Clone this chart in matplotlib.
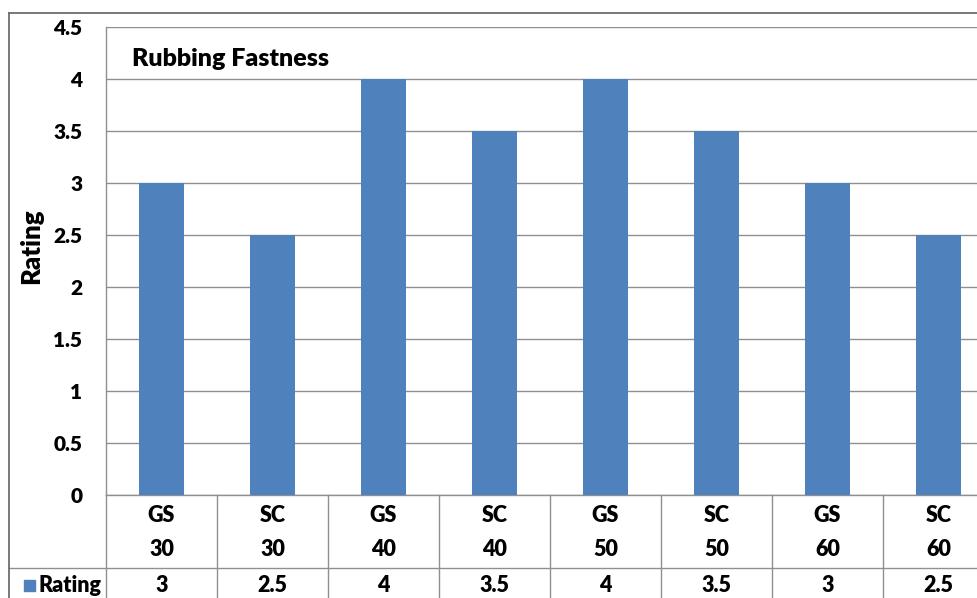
import matplotlib
matplotlib.use("Agg")
import matplotlib.pyplot as plt
from matplotlib.transforms import blended_transform_factory
from matplotlib.lines import Line2D
from matplotlib.patches import Rectangle

# Data
groups = ["GS", "SC", "GS", "SC", "GS", "SC", "GS", "SC"]
levels = ["30", "30", "40", "40", "50", "50", "60", "60"]
ratings = [3, 2.5, 4, 3.5, 4, 3.5, 3, 2.5]
yticks = [0, 0.5, 1, 1.5, 2, 2.5, 3, 3.5, 4, 4.5]
series_name = "Rating"
title = "Rubbing Fastness"

plt.rcParams["font.family"] = ["Lato", "DejaVu Sans"]
plt.rcParams["font.weight"] = "bold"

W, H = 978, 598
fig = plt.figure(figsize=(W / 100, H / 100), dpi=100)


def fx(px):
    return px / W


def fy(py):
    return 1 - py / H


bar_color = "#4F81BD"
grid_color = "#8f8f8f"
frame_color = "#6e6e6e"
fs_tick = 15
fs_table = 15.5
fs_title = 18
fs_ylabel = 18.5
wt = "heavy"

ax = fig.add_axes([fx(106), fy(495), fx(994) - fx(106), fy(27) - fy(495)])
x = list(range(len(ratings)))
ax.bar(x, ratings, width=0.41, color=bar_color, zorder=3)
ax.set_xlim(-0.5, len(ratings) - 0.5)
ax.set_ylim(0, 4.5)
ax.set_yticks(yticks)
ax.set_yticklabels([f"{v:g}" for v in yticks], fontsize=fs_tick, fontweight=wt)
ax.tick_params(axis="y", length=0, pad=17)
ax.set_xticks([])
ax.grid(axis="y", color=grid_color, linewidth=1, zorder=0)
for side in ("right", "top"):
    ax.spines[side].set_visible(False)
for side in ("left", "bottom"):
    ax.spines[side].set_color(grid_color)
    ax.spines[side].set_linewidth(1)

# Title inside the plot area
fig.text(fx(132), fy(59), title, fontsize=fs_title, fontweight=wt,
         ha="left", va="center")

# Y axis label
fig.text(fx(31), fy(246), series_name, fontsize=fs_ylabel, fontweight=wt,
         rotation=90, ha="center", va="center")

# Data table below the axis
tr = blended_transform_factory(ax.transData, fig.transFigure)
for k in range(len(ratings) + 1):
    fig.add_artist(Line2D([k - 0.5, k - 0.5], [fy(495), fy(598)],
                          transform=tr, color=grid_color, linewidth=1))
fig.add_artist(Line2D([fx(9), 1.0], [fy(568), fy(568)],
                      transform=fig.transFigure, color=grid_color, linewidth=1))
for i, (g, lv, r) in enumerate(zip(groups, levels, ratings)):
    fig.text(i, fy(516), g, transform=tr, fontsize=fs_table, fontweight=wt,
             ha="center", va="center")
    fig.text(i, fy(550), lv, transform=tr, fontsize=fs_table, fontweight=wt,
             ha="center", va="center")
    fig.text(i, fy(585), f"{r:g}", transform=tr, fontsize=fs_table, fontweight=wt,
             ha="center", va="center")

# Legend key in the table row
fig.add_artist(Rectangle((fx(24), fy(591)), fx(11), fy(580) - fy(591),
                         transform=fig.transFigure, color=bar_color))
fig.text(fx(38), fy(585), series_name, fontsize=fs_table, fontweight=wt,
         ha="left", va="center")

# Outer chart frame
fig.add_artist(Line2D([fx(9), fx(9)], [fy(13), 0], transform=fig.transFigure,
                      color=frame_color, linewidth=1.3))
fig.add_artist(Line2D([fx(9), 1.0], [fy(13), fy(13)], transform=fig.transFigure,
                      color=frame_color, linewidth=1.3))

fig.savefig("out.png", dpi=100)
